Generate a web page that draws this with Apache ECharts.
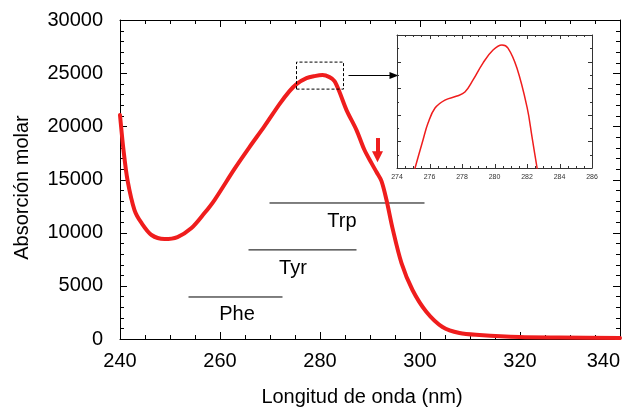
<!DOCTYPE html>
<html>
<head>
<meta charset="utf-8">
<script src="https://cdn.jsdelivr.net/npm/echarts@6/dist/echarts.min.js"></script>
<style>
  html, body { margin: 0; padding: 0; background: #fff; }
  #chart { width: 630px; height: 408px; }
</style>
</head>
<body>
<div id="chart"></div>
<script>
// Molar absorption spectrum of a protein (nm vs. molar absorption)
const wavelength = [240, 240.7, 241.5, 242.9, 244.3, 246.3, 248.9, 251.5, 254.3, 256.9, 258.9, 262.9,
  265.9, 268.9, 271.9, 273.9, 275.3, 277.3, 278.9, 280.5, 281.9, 282.9, 283.9, 285.3, 287.3, 288.9,
  290.3, 291.3, 292.3, 293.3, 294.5, 296.3, 298.5, 301.3, 304.5, 307.9, 311.9, 319.9, 327.9, 340];
const absorbance = [21060, 17770, 14950, 12130, 10910, 9780, 9400, 9590, 10430, 11840, 13070, 16000,
  18050, 20020, 22090, 23310, 23970, 24530, 24720, 24820, 24630, 24250, 23220, 21530, 19650, 17770,
  16540, 15700, 14850, 13070, 10430, 7140, 4610, 2540, 1130, 560, 380, 190, 140, 100];

// Enlarged view of the absorption maximum
const insetWavelength = [275.0, 275.11, 275.6, 275.91, 276.34, 276.95, 277.69, 278.18, 278.68, 279.29,
  279.91, 280.46, 280.83, 281.38, 282.0, 282.31, 282.62, 282.7];
const insetAbsorbance = [23950, 24000, 24211, 24338, 24451, 24511, 24541, 24571, 24662, 24789,
  24887, 24925, 24902, 24752, 24459, 24233, 24000, 23950];

// Aromatic residue absorption bands
const bandNames = ['Phe', 'Tyr', 'Trp'];
const bandStart = [253.7, 265.7, 269.9];
const bandEnd = [272.5, 287.3, 300.9];
const bandLevel = [3950, 8380, 12790];
const bandLabelX = [263.4, 274.6, 284.4];
const bandLabelY = [2260, 6670, 11090];

// Zoomed region and markers
const zoomBoxX = [275.3, 284.7];
const zoomBoxY = [23500, 26040];
const linkArrowX = [285.7, 294.8];
const linkArrowY = 24770;
const shoulderArrowX = 291.5;
const shoulderArrowY = [18900, 17150];

// Axis ticks
const xTicks = [240, 260, 280, 300, 320, 340];
const yTicks = [0, 5000, 10000, 15000, 20000, 25000, 30000];
const insetXTicks = [274, 276, 278, 280, 282, 284, 286];
const insetYRange = [24000, 25000];

const RED = '#ef1d1d';
const FONT = 'Liberation Sans, Arial, sans-serif';

const chart = echarts.init(document.getElementById('chart'), null, { renderer: 'canvas' });

function plainAxis(base, color) {
  return Object.assign({
    axisLine: { show: true, onZero: false, lineStyle: { color: color, width: 1 } },
    axisTick: { show: false },
    minorTick: { show: false },
    splitLine: { show: false }
  }, base);
}

// Inward tick marks on all four sides of a frame, drawn through the axis scales
function frameTicks(cfg) {
  const data = [];
  const nx = Math.round((cfg.x[1] - cfg.x[0]) / cfg.xStep * cfg.xDiv);
  for (let i = 0; i <= nx; i++) {
    data.push([cfg.x[0] + i * cfg.xStep / cfg.xDiv, cfg.y[0], 0, i % cfg.xDiv === 0 ? 1 : 0]);
  }
  const ny = Math.round((cfg.y[1] - cfg.y[0]) / cfg.yStep * cfg.yDiv);
  for (let j = 0; j <= ny; j++) {
    data.push([cfg.x[0], cfg.y[0] + j * cfg.yStep / cfg.yDiv, 1, j % cfg.yDiv === 0 ? 1 : 0]);
  }
  return {
    type: 'custom', xAxisIndex: cfg.xAxisIndex, yAxisIndex: cfg.yAxisIndex,
    data: data, silent: true, clip: false, z: cfg.z,
    renderItem: function (params, api) {
      const v = [api.value(0), api.value(1)];
      const len = api.value(3) ? cfg.major : cfg.minor;
      const style = { stroke: cfg.color, lineWidth: 1 };
      let a, b;
      if (api.value(2) === 0) {
        a = api.coord([v[0], cfg.y[0]]);
        b = api.coord([v[0], cfg.y[1]]);
        const x = Math.round(a[0]) + 0.5;
        return { type: 'group', children: [
          { type: 'line', shape: { x1: x, y1: a[1], x2: x, y2: a[1] - len }, style: style },
          { type: 'line', shape: { x1: x, y1: b[1], x2: x, y2: b[1] + len }, style: style }
        ] };
      }
      a = api.coord([cfg.x[0], v[1]]);
      b = api.coord([cfg.x[1], v[1]]);
      const y = Math.round(a[1]) + 0.5;
      return { type: 'group', children: [
        { type: 'line', shape: { x1: a[0], y1: y, x2: a[0] + len, y2: y }, style: style },
        { type: 'line', shape: { x1: b[0], y1: y, x2: b[0] - len, y2: y }, style: style }
      ] };
    }
  };
}

const mainX = { type: 'value', min: xTicks[0], max: xTicks[xTicks.length - 1], interval: 20, gridIndex: 0 };
const mainY = { type: 'value', min: yTicks[0], max: yTicks[yTicks.length - 1], interval: 5000, gridIndex: 0 };
const insetX = { type: 'value', min: insetXTicks[0], max: insetXTicks[insetXTicks.length - 1], interval: 2, gridIndex: 1 };
const insetY = { type: 'value', min: insetYRange[0], max: insetYRange[1], interval: 200, gridIndex: 1 };

const bandSeries = bandNames.map((name, i) => ({
  type: 'line', name: name, xAxisIndex: 0, yAxisIndex: 0,
  data: [[bandStart[i], bandLevel[i]], [bandEnd[i], bandLevel[i]]],
  symbol: 'none', silent: true,
  lineStyle: { color: '#000', width: 1 }, z: 3
}));

const option = {
  animation: false,
  backgroundColor: '#fff',
  grid: [
    { left: 120, top: 20, width: 500, height: 319, containLabel: false, outerBoundsMode: 'none' },
    { left: 397, top: 35, width: 195, height: 133, containLabel: false, outerBoundsMode: 'none',
      show: true, backgroundColor: '#fff', borderWidth: 0, z: 5 }
  ],
  xAxis: [
    plainAxis(Object.assign({}, mainX, {
      position: 'bottom',
      axisLabel: { color: '#000', fontSize: 20, fontFamily: FONT, margin: 12,
        alignMaxLabel: 'right', formatter: v => String(v) },
      name: 'Longitud de onda (nm)', nameLocation: 'middle', nameGap: 48,
      nameTextStyle: { color: '#000', fontSize: 20, fontFamily: FONT, padding: [0, 16, 0, 0] }
    }), '#000'),
    plainAxis(Object.assign({}, mainX, { position: 'top', axisLabel: { show: false } }), '#000'),
    plainAxis(Object.assign({}, insetX, {
      position: 'bottom', z: 6,
      axisLabel: { color: '#333', fontSize: 7, fontFamily: FONT, margin: 6, formatter: v => String(v) }
    }), '#333'),
    plainAxis(Object.assign({}, insetX, { position: 'top', z: 6, axisLabel: { show: false } }), '#333')
  ],
  yAxis: [
    plainAxis(Object.assign({}, mainY, {
      position: 'left',
      axisLabel: { color: '#000', fontSize: 20, fontFamily: FONT, margin: 17, formatter: v => String(v) },
      name: 'Absorción molar', nameLocation: 'middle', nameGap: 88,
      nameTextStyle: { color: '#000', fontSize: 20, fontFamily: FONT, padding: [0, 16, 0, 0] }
    }), '#000'),
    plainAxis(Object.assign({}, mainY, { position: 'right', axisLabel: { show: false } }), '#000'),
    plainAxis(Object.assign({}, insetY, { position: 'left', z: 6, axisLabel: { show: false } }), '#333'),
    plainAxis(Object.assign({}, insetY, { position: 'right', z: 6, axisLabel: { show: false } }), '#333')
  ],
  series: [
    {
      type: 'line', name: 'spectrum', xAxisIndex: 0, yAxisIndex: 0,
      data: wavelength.map((w, i) => [w, absorbance[i]]),
      smooth: 0.3, symbol: 'none', silent: true,
      lineStyle: { color: RED, width: 4, cap: 'round', join: 'round' }, z: 4,
      markLine: {
        silent: true, animation: false,
        label: { show: false },
        data: [
          [
            { coord: [linkArrowX[0], linkArrowY], symbol: 'none' },
            { coord: [linkArrowX[1], linkArrowY], symbol: 'triangle', symbolSize: [7, 9] }
          ],
          [
            { coord: [shoulderArrowX, shoulderArrowY[0]], symbol: 'none',
              lineStyle: { color: RED, width: 4, type: 'solid' } },
            { coord: [shoulderArrowX, shoulderArrowY[1]], symbol: 'triangle', symbolSize: [11, 11],
              itemStyle: { color: RED }, lineStyle: { color: RED, width: 4, type: 'solid' } }
          ]
        ],
        lineStyle: { color: '#000', width: 1, type: 'solid' },
        itemStyle: { color: '#000' }
      }
    },
    ...bandSeries,
    {
      type: 'scatter', name: 'bandLabels', xAxisIndex: 0, yAxisIndex: 0,
      data: bandNames.map((n, i) => ({ value: [bandLabelX[i], bandLabelY[i]], name: n })),
      symbolSize: 0, silent: true, itemStyle: { color: '#000', opacity: 1 },
      label: { show: true, position: 'inside', formatter: p => p.name, opacity: 1,
        color: '#000', textBorderWidth: 0, fontSize: 20, fontFamily: FONT }
    },
    {
      type: 'line', name: 'zoomBox', xAxisIndex: 0, yAxisIndex: 0,
      data: [[zoomBoxX[0], zoomBoxY[0]], [zoomBoxX[1], zoomBoxY[0]], [zoomBoxX[1], zoomBoxY[1]],
        [zoomBoxX[0], zoomBoxY[1]], [zoomBoxX[0], zoomBoxY[0]]],
      symbol: 'none', silent: true,
      lineStyle: { color: '#000', width: 1, type: [3, 2] }, z: 5
    },
    {
      type: 'line', name: 'inset', xAxisIndex: 2, yAxisIndex: 2,
      data: insetWavelength.map((w, i) => [w, insetAbsorbance[i]]),
      smooth: 0.4, symbol: 'none', silent: true, clip: true,
      lineStyle: { color: RED, width: 1.5 }, z: 7
    },
    frameTicks({ xAxisIndex: 0, yAxisIndex: 0, x: [xTicks[0], xTicks[xTicks.length - 1]], xStep: 20, xDiv: 4,
      y: [yTicks[0], yTicks[yTicks.length - 1]], yStep: 5000, yDiv: 5, major: 7, minor: 4, color: '#000', z: 3 }),
    frameTicks({ xAxisIndex: 2, yAxisIndex: 2, x: [insetXTicks[0], insetXTicks[insetXTicks.length - 1]], xStep: 2, xDiv: 4,
      y: insetYRange, yStep: 200, yDiv: 2, major: 4, minor: 2, color: '#333', z: 8 })
  ]
};

chart.setOption(option);
</script>
</body>
</html>
